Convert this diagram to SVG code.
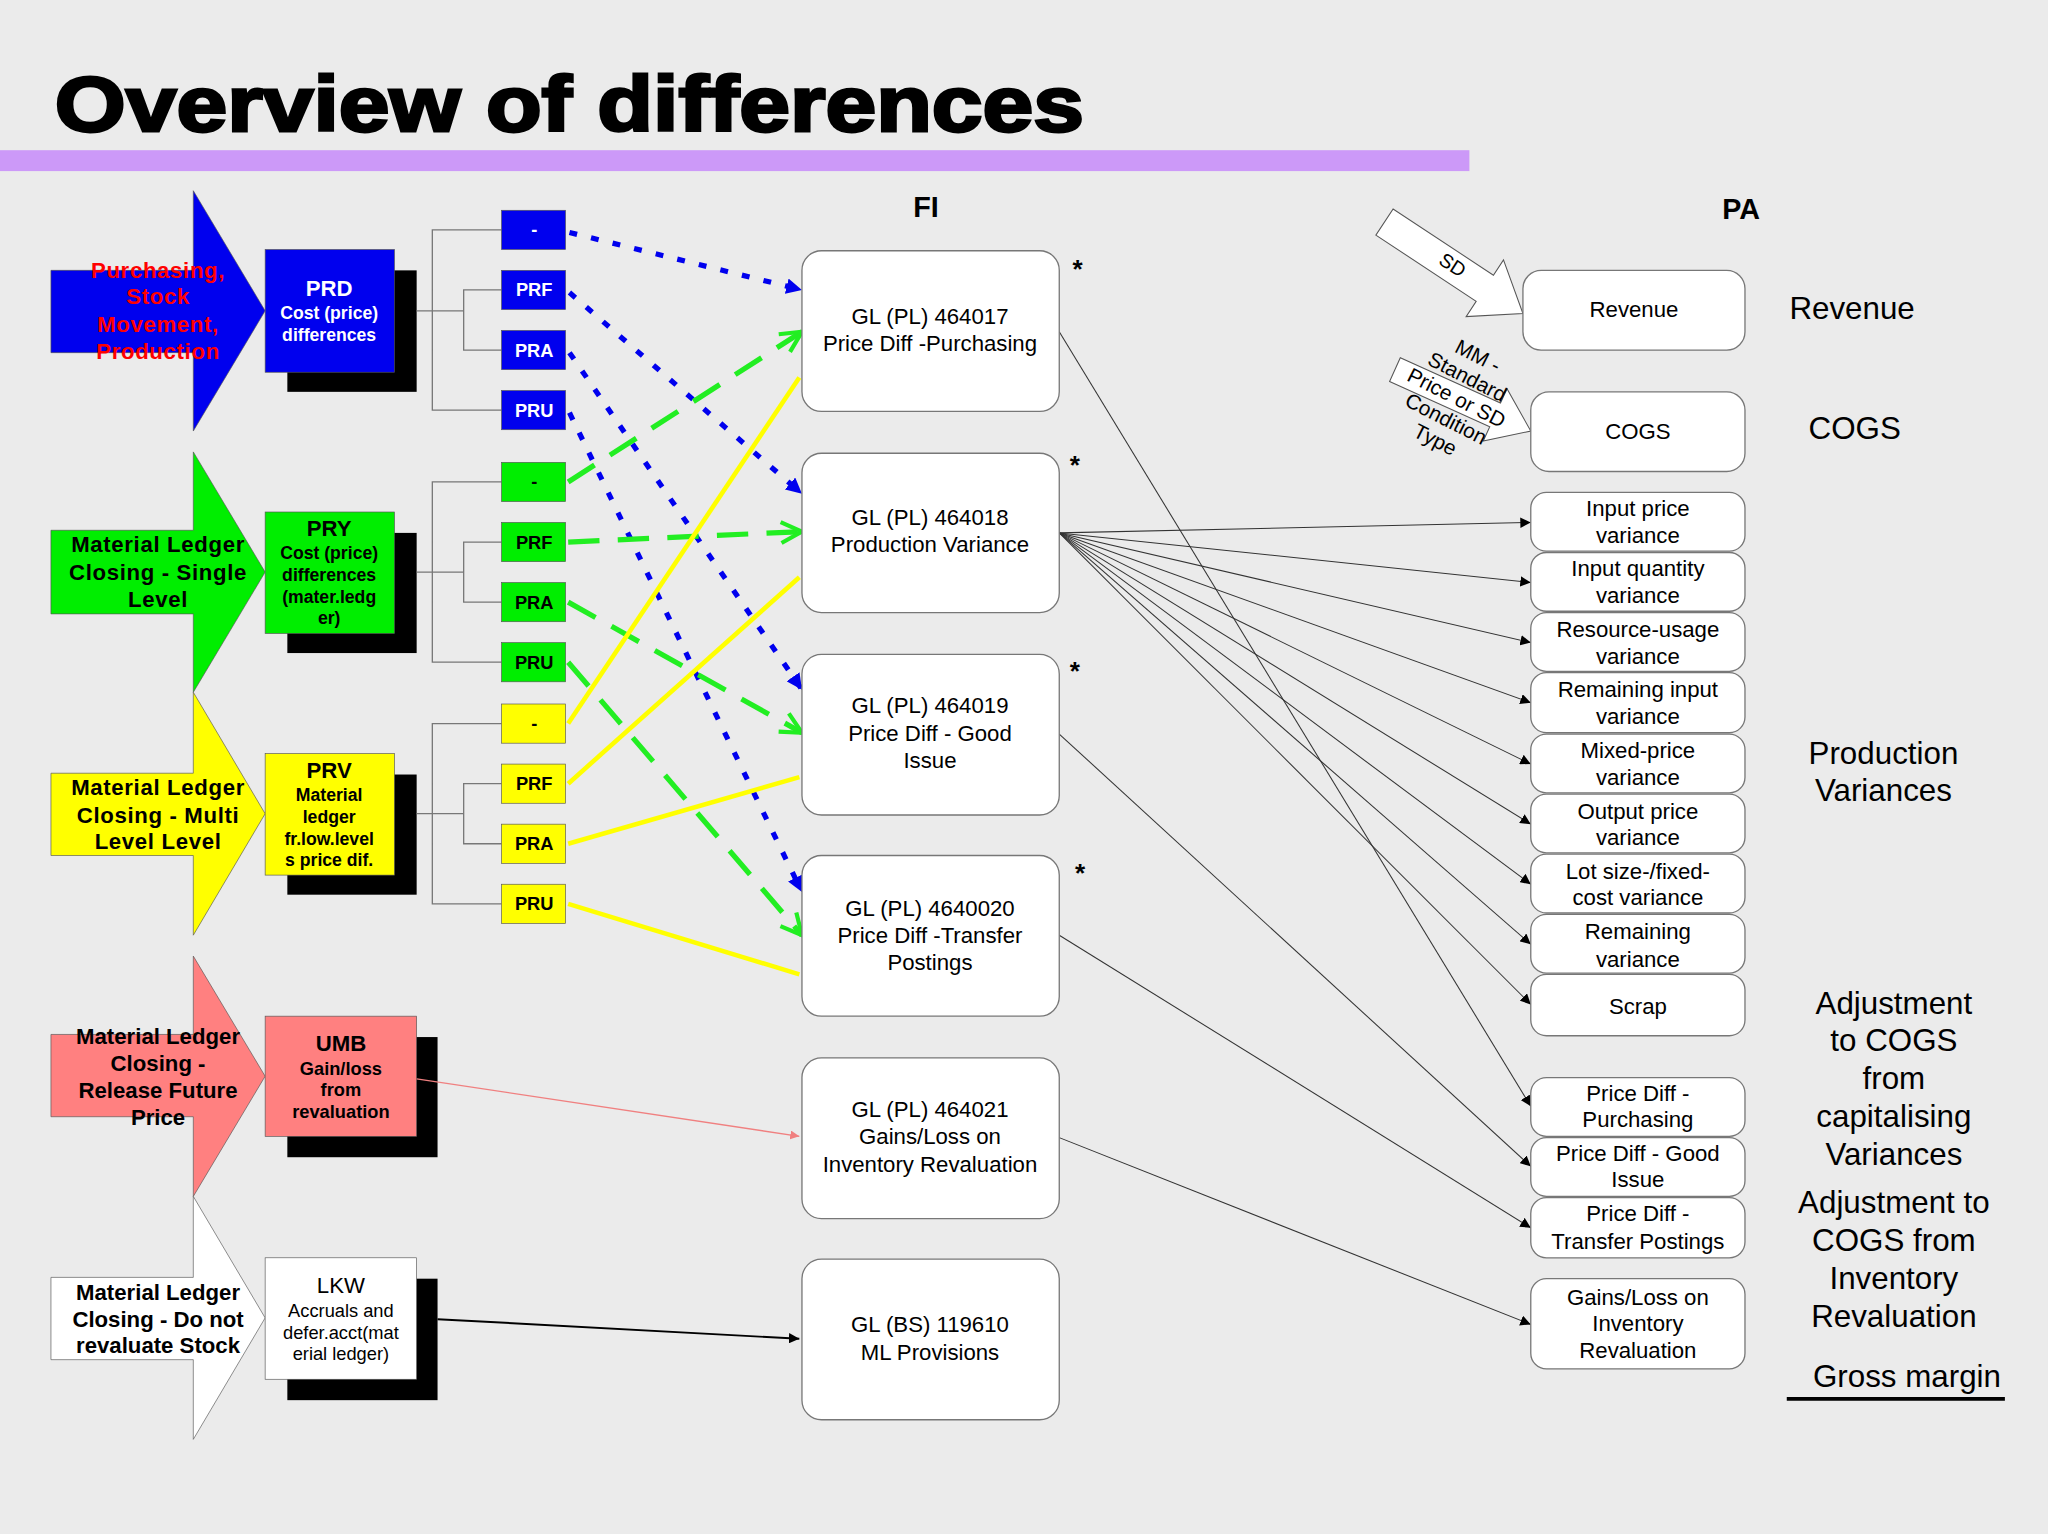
<svg xmlns="http://www.w3.org/2000/svg" width="2048" height="1534" viewBox="0 0 2048 1534">
<defs>
<style>
text{font-family:"Liberation Sans",Arial,sans-serif;text-anchor:middle}
.b{font-weight:bold}
.sm{font-size:14px;font-weight:bold}
.fi{fill:#fff;stroke:#777;stroke-width:1}
.pa{fill:#fff;stroke:#777;stroke-width:1}
.t17{font-size:17px}
.tree{fill:none;stroke:#777;stroke-width:1}
.blk{stroke:#333;stroke-width:0.8;fill:none;marker-end:url(#mk)}
</style>
<marker id="mk" viewBox="0 0 10 10" refX="10" refY="5" markerWidth="8" markerHeight="8" markerUnits="userSpaceOnUse" orient="auto"><path d="M0,0L10,5L0,10z" fill="#000"/></marker>
<marker id="mb" viewBox="0 0 10 10" refX="10" refY="5" markerWidth="12" markerHeight="12" markerUnits="userSpaceOnUse" orient="auto"><path d="M0,0L10,5L0,10z" fill="#0000ee"/></marker>
<marker id="mg" viewBox="0 0 10 10" refX="9" refY="5" markerWidth="20" markerHeight="20" markerUnits="userSpaceOnUse" orient="auto"><path d="M1,1L9,5L1,9" fill="none" stroke="#22ee22" stroke-width="1.6"/></marker>
<marker id="mr" viewBox="0 0 10 10" refX="10" refY="5" markerWidth="7" markerHeight="7" markerUnits="userSpaceOnUse" orient="auto"><path d="M0,0L10,5L0,10z" fill="#f08080"/></marker>
</defs>
<rect width="2048" height="1534" fill="#ebebeb"/>
<g transform="scale(1.30612)">
<text x="42" y="100" font-size="60" font-weight="bold" stroke="#000" stroke-width="2.2" textLength="788" lengthAdjust="spacingAndGlyphs" style="text-anchor:start">Overview of differences</text>
<rect x="0" y="115" width="1125" height="16" fill="#cc99f8"/>
<text x="709" y="166" class="b" font-size="22">FI</text>
<text x="1333" y="168" class="b" font-size="22">PA</text>

<g id="arrow-blue"><path d="M39,207H148V146L203,238L148,330V270H39Z" fill="#0000ee" stroke="#555" stroke-width="0.5"/>
<g class="b" font-size="17" fill="#ff0000" letter-spacing="0.5"><text x="121" y="213">Purchasing,</text><text x="121" y="233">Stock</text><text x="121" y="254">Movement,</text><text x="121" y="275">Production</text></g></g>
<g id="arrow-green"><path d="M39,406H148V346L203,438L148,530V470H39Z" fill="#00ee00" stroke="#555" stroke-width="0.5"/>
<g class="b" font-size="17" letter-spacing="0.5"><text x="121" y="423">Material Ledger</text><text x="121" y="444">Closing - Single</text><text x="121" y="465">Level</text></g></g>
<g id="arrow-yellow"><path d="M39,592H148V530L203,623L148,716V655H39Z" fill="#ffff00" stroke="#555" stroke-width="0.5"/>
<g class="b" font-size="17" letter-spacing="0.5"><text x="121" y="609">Material Ledger</text><text x="121" y="630">Closing - Multi</text><text x="121" y="650">Level Level</text></g></g>
<g id="arrow-red"><path d="M39,792H148V732L203,824L148,916V855H39Z" fill="#ff8080" stroke="#555" stroke-width="0.5"/>
<g class="b" font-size="17"><text x="121" y="799">Material Ledger</text><text x="121" y="820">Closing -</text><text x="121" y="841">Release Future</text><text x="121" y="861">Price</text></g></g>
<g id="arrow-white"><path d="M39,978H148V916L203,1009L148,1102V1041H39Z" fill="#fff" stroke="#555" stroke-width="0.5"/>
<g class="b" font-size="17"><text x="121" y="995">Material Ledger</text><text x="121" y="1016">Closing - Do not</text><text x="121" y="1036">revaluate Stock</text></g></g>

<g id="PRD"><rect x="220" y="207" width="99" height="93" fill="#000"/><rect x="203" y="191" width="99" height="94" fill="#0000ee" stroke="#555" stroke-width="0.5"/>
<g fill="#fff" class="b"><text x="252" y="227" font-size="17">PRD</text><text x="252" y="244" font-size="13.5">Cost (price)</text><text x="252" y="261" font-size="13.5">differences</text></g></g>
<g id="PRY"><rect x="220" y="408" width="99" height="92" fill="#000"/><rect x="203" y="392" width="99" height="93" fill="#00ee00" stroke="#555" stroke-width="0.5"/>
<g class="b"><text x="252" y="410" font-size="17">PRY</text><text x="252" y="428" font-size="13.5">Cost (price)</text><text x="252" y="445" font-size="13.5">differences</text><text x="252" y="462" font-size="13.5">(mater.ledg</text><text x="252" y="478" font-size="13.5">er)</text></g></g>
<g id="PRV"><rect x="220" y="593" width="99" height="92" fill="#000"/><rect x="203" y="577" width="99" height="93" fill="#ffff00" stroke="#555" stroke-width="0.5"/>
<g class="b"><text x="252" y="596" font-size="17">PRV</text><text x="252" y="613" font-size="13.5">Material</text><text x="252" y="630" font-size="13.5">ledger</text><text x="252" y="647" font-size="13.5">fr.low.level</text><text x="252" y="663" font-size="13.5">s price dif.</text></g></g>
<g id="UMB"><rect x="220" y="794" width="115" height="92" fill="#000"/><rect x="203" y="778" width="116" height="92" fill="#ff8080" stroke="#555" stroke-width="0.5"/>
<g class="b"><text x="261" y="805" font-size="17">UMB</text><text x="261" y="823" font-size="14">Gain/loss</text><text x="261" y="839" font-size="14">from</text><text x="261" y="856" font-size="14">revaluation</text></g></g>
<g id="LKW"><rect x="220" y="979" width="115" height="93" fill="#000"/><rect x="203" y="963" width="116" height="93" fill="#fff" stroke="#555" stroke-width="0.5"/>
<text x="261" y="990" font-size="17">LKW</text><text x="261" y="1008" font-size="14">Accruals and</text><text x="261" y="1025" font-size="14">defer.acct(mat</text><text x="261" y="1041" font-size="14">erial ledger)</text></g>

<g id="tree-lines">
<path class="tree" d="M384,176H331V314H384M319,238H355M384,222H355V268H384"/>
<path class="tree" d="M384,369H331V507H384M319,438H355M384,415H355V461H384"/>
<path class="tree" d="M384,554H331V692H384M319,623H355M384,600H355V646H384"/>
</g>

<g id="codes" class="sm">
<g fill="#0000ee" stroke="#555" stroke-width="0.5"><rect x="384" y="161" width="49" height="30"/><rect x="384" y="207" width="49" height="30"/><rect x="384" y="253" width="49" height="30"/><rect x="384" y="299" width="49" height="30"/></g>
<g fill="#fff"><text x="409" y="181">-</text><text x="409" y="227">PRF</text><text x="409" y="273">PRA</text><text x="409" y="319">PRU</text></g>
<g fill="#00ee00" stroke="#555" stroke-width="0.5"><rect x="384" y="354" width="49" height="30"/><rect x="384" y="400" width="49" height="30"/><rect x="384" y="446" width="49" height="30"/><rect x="384" y="492" width="49" height="30"/></g>
<g><text x="409" y="374">-</text><text x="409" y="420">PRF</text><text x="409" y="466">PRA</text><text x="409" y="512">PRU</text></g>
<g fill="#ffff00" stroke="#555" stroke-width="0.5"><rect x="384" y="539" width="49" height="30"/><rect x="384" y="585" width="49" height="30"/><rect x="384" y="631" width="49" height="30"/><rect x="384" y="677" width="49" height="30"/></g>
<g><text x="409" y="559">-</text><text x="409" y="605">PRF</text><text x="409" y="651">PRA</text><text x="409" y="697">PRU</text></g>
</g>

<g id="connectors">
<g stroke="#0000ee" stroke-width="4" stroke-dasharray="6 11" fill="none" marker-end="url(#mb)">
<path d="M436,178L614,222"/><path d="M436,224L614,378"/><path d="M436,270L614,528"/><path d="M436,316L614,683"/></g>
<g stroke="#22ee22" stroke-width="4" stroke-dasharray="24 14" fill="none" marker-end="url(#mg)">
<path d="M435,369L614,254"/><path d="M435,415L614,407"/><path d="M435,461L614,561"/><path d="M435,507L614,716"/></g>
<g stroke="#ffff00" stroke-width="3.5" fill="none">
<path d="M435,554L612,289"/><path d="M435,600L612,442"/><path d="M435,646L612,595"/><path d="M435,692L612,746"/></g>
<path d="M319,826L612,870" stroke="#f08080" stroke-width="1" fill="none" marker-end="url(#mr)"/>
<path d="M335,1010L612,1025" stroke="#000" stroke-width="1.5" fill="none" marker-end="url(#mk)"/>
<path class="blk" d="M811,254L1172,847"/>
<path class="blk" d="M811,408L1172,400"/><path class="blk" d="M811,408L1172,446"/><path class="blk" d="M811,408L1172,492"/><path class="blk" d="M811,408L1172,538"/><path class="blk" d="M811,408L1172,585"/><path class="blk" d="M811,408L1172,631"/><path class="blk" d="M811,408L1172,677"/><path class="blk" d="M811,408L1172,723"/><path class="blk" d="M811,408L1172,769"/>
<path class="blk" d="M811,562L1172,893"/><path class="blk" d="M811,716L1172,940"/><path class="blk" d="M811,871L1172,1014"/>
</g>

<g id="fi-boxes" class="t17">
<g id="fi1"><rect class="fi" x="614" y="192" width="197" height="123" rx="15"/><text x="712" y="248">GL (PL) 464017</text><text x="712" y="269">Price Diff -Purchasing</text></g>
<g id="fi2"><rect class="fi" x="614" y="347" width="197" height="122" rx="15"/><text x="712" y="402">GL (PL) 464018</text><text x="712" y="423">Production Variance</text></g>
<g id="fi3"><rect class="fi" x="614" y="501" width="197" height="123" rx="15"/><text x="712" y="546">GL (PL) 464019</text><text x="712" y="567">Price Diff - Good</text><text x="712" y="588">Issue</text></g>
<g id="fi4"><rect class="fi" x="614" y="655" width="197" height="123" rx="15"/><text x="712" y="701">GL (PL) 4640020</text><text x="712" y="722">Price Diff -Transfer</text><text x="712" y="743">Postings</text></g>
<g id="fi5"><rect class="fi" x="614" y="810" width="197" height="123" rx="15"/><text x="712" y="855">GL (PL) 464021</text><text x="712" y="876">Gains/Loss on</text><text x="712" y="897">Inventory Revaluation</text></g>
<g id="fi6"><rect class="fi" x="614" y="964" width="197" height="123" rx="15"/><text x="712" y="1020">GL (BS) 119610</text><text x="712" y="1041">ML Provisions</text></g>
<g font-size="20" class="b"><text x="825" y="213">*</text><text x="823" y="363">*</text><text x="823" y="521">*</text><text x="827" y="675">*</text></g>
</g>

<g id="sd-arrows">
<path d="M1053.4,180L1130.2,230.7L1122.5,242.4L1166,240L1151.1,199L1143.4,210.7L1066.6,160Z" fill="#fff" stroke="#555" stroke-width="0.8"/>
<text x="1112" y="208" font-size="15" transform="rotate(33 1112 203)">SD</text>
<path d="M1063.9,292.1L1140.6,326.7L1135.6,337.6L1172,330L1153.8,297.6L1148.8,308.5L1072.1,273.9Z" fill="#fff" stroke="#555" stroke-width="0.8"/>
<g font-size="16" transform="rotate(27 1115 305)"><text x="1115" y="274">MM -</text><text x="1115" y="292">Standard</text><text x="1115" y="310">Price or SD</text><text x="1115" y="328">Condition</text><text x="1115" y="346">Type</text></g>
</g>

<g id="pa-boxes" class="t17">
<g><rect class="pa" x="1166" y="207" width="170" height="61" rx="14"/><text x="1251" y="243">Revenue</text></g>
<g><rect class="pa" x="1172" y="300" width="164" height="61" rx="14"/><text x="1254" y="336">COGS</text></g>
<g><rect class="pa" x="1172" y="377" width="164" height="45" rx="12"/><text x="1254" y="395">Input price</text><text x="1254" y="416">variance</text></g>
<g><rect class="pa" x="1172" y="423" width="164" height="45" rx="12"/><text x="1254" y="441">Input quantity</text><text x="1254" y="462">variance</text></g>
<g><rect class="pa" x="1172" y="469" width="164" height="45" rx="12"/><text x="1254" y="488">Resource-usage</text><text x="1254" y="508">variance</text></g>
<g><rect class="pa" x="1172" y="515" width="164" height="46" rx="12"/><text x="1254" y="534">Remaining input</text><text x="1254" y="554">variance</text></g>
<g><rect class="pa" x="1172" y="562" width="164" height="45" rx="12"/><text x="1254" y="580">Mixed-price</text><text x="1254" y="601">variance</text></g>
<g><rect class="pa" x="1172" y="608" width="164" height="45" rx="12"/><text x="1254" y="627">Output price</text><text x="1254" y="647">variance</text></g>
<g><rect class="pa" x="1172" y="654" width="164" height="45" rx="12"/><text x="1254" y="673">Lot size-/fixed-</text><text x="1254" y="693">cost variance</text></g>
<g><rect class="pa" x="1172" y="700" width="164" height="45" rx="12"/><text x="1254" y="719">Remaining</text><text x="1254" y="740">variance</text></g>
<g><rect class="pa" x="1172" y="746" width="164" height="47" rx="12"/><text x="1254" y="776">Scrap</text></g>
<g><rect class="pa" x="1172" y="825" width="164" height="45" rx="12"/><text x="1254" y="843">Price Diff -</text><text x="1254" y="863">Purchasing</text></g>
<g><rect class="pa" x="1172" y="871" width="164" height="45" rx="12"/><text x="1254" y="889">Price Diff - Good</text><text x="1254" y="909">Issue</text></g>
<g><rect class="pa" x="1172" y="917" width="164" height="46" rx="12"/><text x="1254" y="935">Price Diff -</text><text x="1254" y="956">Transfer Postings</text></g>
<g><rect class="pa" x="1172" y="979" width="164" height="69" rx="12"/><text x="1254" y="999">Gains/Loss on</text><text x="1254" y="1019">Inventory</text><text x="1254" y="1040">Revaluation</text></g>
</g>

<g id="pa-labels" font-size="24">
<text x="1418" y="244">Revenue</text>
<text x="1420" y="336">COGS</text>
<text x="1442" y="585">Production</text><text x="1442" y="613">Variances</text>
<text x="1450" y="776">Adjustment</text><text x="1450" y="805">to COGS</text><text x="1450" y="834">from</text><text x="1450" y="863">capitalising</text><text x="1450" y="892">Variances</text>
<text x="1450" y="929">Adjustment to</text><text x="1450" y="958">COGS from</text><text x="1450" y="987">Inventory</text><text x="1450" y="1016">Revaluation</text>
<text x="1460" y="1062">Gross margin</text>
<path d="M1368,1071H1535" stroke="#000" stroke-width="3"/>
</g>
</g>
</svg>
